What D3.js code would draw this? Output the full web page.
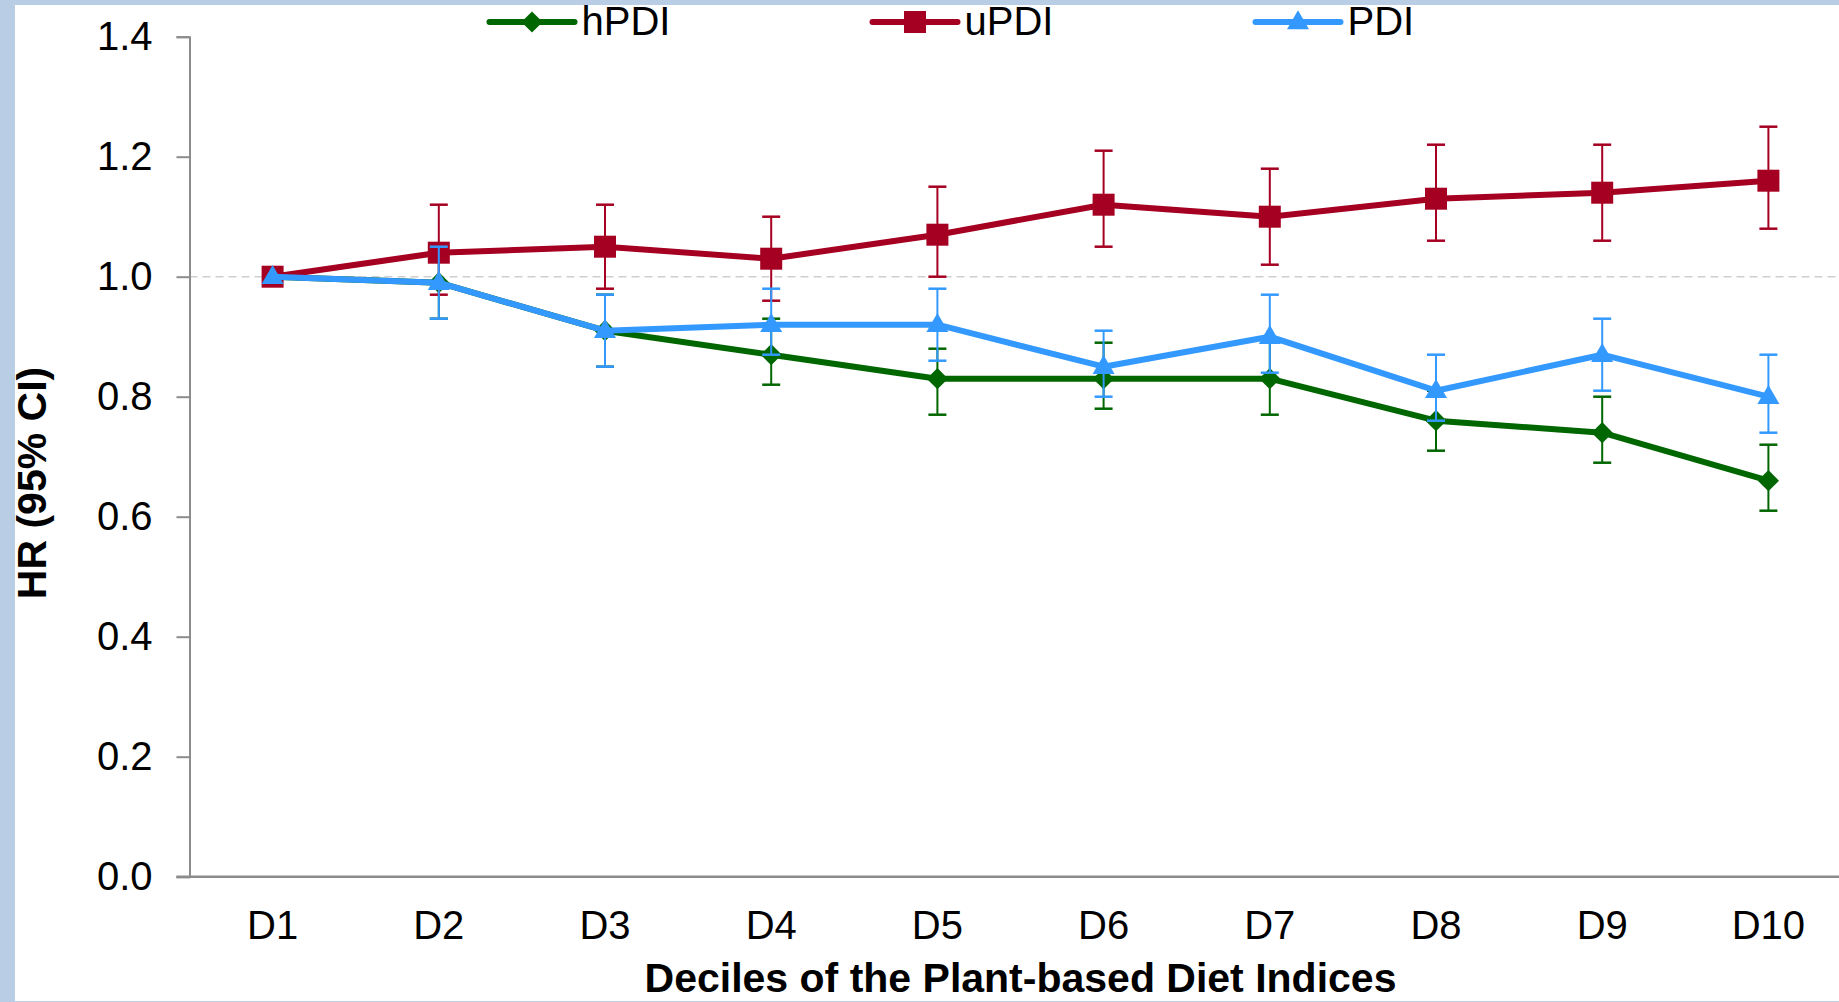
<!DOCTYPE html>
<html>
<head>
<meta charset="utf-8">
<script src="https://cdn.jsdelivr.net/npm/d3@7"></script>
<style>
  html, body { margin: 0; padding: 0; background: #b9cde5; }
  svg { display: block; }
  text { font-family: "Liberation Sans", Arial, sans-serif; fill: #000; }
</style>
</head>
<body>
<svg id="chart" width="1839" height="1002"></svg>
<script>
// Deciles on the x axis
const categories = ["D1", "D2", "D3", "D4", "D5", "D6", "D7", "D8", "D9", "D10"];

// Hazard ratios with 95% confidence limits per index
const hPDI      = [1.00, 0.99, 0.91, 0.87, 0.83, 0.83, 0.83, 0.76, 0.74, 0.66];
const hPDI_low  = [1.00, 0.93, 0.85, 0.82, 0.77, 0.78, 0.77, 0.71, 0.69, 0.61];
const hPDI_high = [1.00, 1.05, 0.97, 0.93, 0.88, 0.89, 0.89, 0.81, 0.80, 0.72];

const uPDI      = [1.00, 1.04, 1.05, 1.03, 1.07, 1.12, 1.10, 1.13, 1.14, 1.16];
const uPDI_low  = [1.00, 0.97, 0.98, 0.96, 1.00, 1.05, 1.02, 1.06, 1.06, 1.08];
const uPDI_high = [1.00, 1.12, 1.12, 1.10, 1.15, 1.21, 1.18, 1.22, 1.22, 1.25];

const PDI       = [1.00, 0.99, 0.91, 0.92, 0.92, 0.85, 0.90, 0.81, 0.87, 0.80];
const PDI_low   = [1.00, 0.93, 0.85, 0.87, 0.86, 0.80, 0.84, 0.76, 0.81, 0.74];
const PDI_high  = [1.00, 1.05, 0.97, 0.98, 0.98, 0.91, 0.97, 0.87, 0.93, 0.87];

const yTicks = [0.0, 0.2, 0.4, 0.6, 0.8, 1.0, 1.2, 1.4];
const referenceHR = 1.0;

const series = [
  { name: "hPDI", values: hPDI, low: hPDI_low, high: hPDI_high, color: "#006600", marker: "diamond" },
  { name: "uPDI", values: uPDI, low: uPDI_low, high: uPDI_high, color: "#a50021", marker: "square" },
  { name: "PDI",  values: PDI,  low: PDI_low,  high: PDI_high,  color: "#3399ff", marker: "triangle" }
];

const svg = d3.select("#chart");

// white chart area inside the light-blue frame
svg.append("rect").attr("x", 15).attr("y", 5).attr("width", 1839 - 15).attr("height", 1001 - 5).attr("fill", "#fff");

const x = d3.scaleBand().domain(categories).range([189.5, 1851.5]).padding(0);
const y = d3.scaleLinear().domain([0, 1.4]).range([876.7, 36.7]);
const cx = c => x(c) + x.bandwidth() / 2;

// reference line at HR = 1
svg.append("line")
  .attr("x1", x.range()[0]).attr("x2", 1839)
  .attr("y1", y(referenceHR)).attr("y2", y(referenceHR))
  .attr("stroke", "#cfcfcf").attr("stroke-width", 1.5).attr("stroke-dasharray", "8,5");

// y axis
const yAxis = svg.append("g")
  .attr("transform", `translate(${x.range()[0]},0)`)
  .call(d3.axisLeft(y).tickValues(yTicks).tickFormat(d3.format(".1f")).tickSize(13).tickPadding(24));
yAxis.select(".domain").attr("stroke", "#8c8c8c").attr("stroke-width", 2);
yAxis.selectAll(".tick line").attr("stroke", "#8c8c8c").attr("stroke-width", 2);
yAxis.selectAll(".tick text").attr("font-size", 40).attr("fill", "#000")
  .style("font-family", '"Liberation Sans", Arial, sans-serif');

// x axis
const xAxis = svg.append("g")
  .attr("transform", `translate(0,${y(0)})`)
  .call(d3.axisBottom(x).tickSize(0).tickPadding(34));
xAxis.select(".domain").remove();
svg.append("line")
  .attr("x1", x.range()[0] - 13).attr("x2", 1839)
  .attr("y1", y(0)).attr("y2", y(0))
  .attr("stroke", "#8c8c8c").attr("stroke-width", 2.5);
xAxis.selectAll(".tick text").attr("font-size", 40).attr("fill", "#000")
  .style("font-family", '"Liberation Sans", Arial, sans-serif');

// axis titles
svg.append("text")
  .attr("x", (x.range()[0] + x.range()[1]) / 2).attr("y", 992)
  .attr("text-anchor", "middle").attr("font-size", 41).attr("font-weight", "bold")
  .text("Deciles of the Plant-based Diet Indices");

svg.append("text")
  .attr("transform", "translate(46,483) rotate(-90)")
  .attr("text-anchor", "middle").attr("font-size", 41).attr("font-weight", "bold")
  .text("HR (95% CI)");

// marker shapes
function markerPath(kind) {
  if (kind === "square") return d3.symbol().type(d3.symbolSquare).size(22 * 22)();
  if (kind === "diamond") return d3.symbol().type(d3.symbolSquare).size(15 * 15)();
  return d3.symbol().type(d3.symbolTriangle).size(210)();
}
function markerTransform(kind, px, py) {
  if (kind === "diamond") return `translate(${px},${py}) rotate(45)`;
  if (kind === "triangle") return `translate(${px},${py + 1})`;
  return `translate(${px},${py})`;
}

const line = d3.line().x(d => cx(d.c)).y(d => y(d.v));

series.forEach(s => {
  const pts = categories.map((c, i) => ({ c, v: s.values[i], lo: s.low[i], hi: s.high[i] }));
  const g = svg.append("g");

  // confidence interval whiskers
  const eb = g.selectAll(".eb").data(pts.filter(p => p.lo !== p.hi)).enter().append("g");
  eb.append("line")
    .attr("x1", p => cx(p.c)).attr("x2", p => cx(p.c))
    .attr("y1", p => y(p.lo)).attr("y2", p => y(p.hi))
    .attr("stroke", s.color).attr("stroke-width", 2);
  [d => d.lo, d => d.hi].forEach(acc => {
    eb.append("line")
      .attr("x1", p => cx(p.c) - 9).attr("x2", p => cx(p.c) + 9)
      .attr("y1", p => y(acc(p))).attr("y2", p => y(acc(p)))
      .attr("stroke", s.color).attr("stroke-width", 2.5);
  });

  g.append("path").datum(pts).attr("d", line)
    .attr("fill", "none").attr("stroke", s.color).attr("stroke-width", 6)
    .attr("stroke-linejoin", "round");

  g.selectAll(".mk").data(pts).enter().append("path")
    .attr("d", markerPath(s.marker))
    .attr("transform", p => markerTransform(s.marker, cx(p.c), y(p.v)))
    .attr("fill", s.color);
});

// legend
const legend = svg.append("g");
series.forEach((s, i) => {
  const x0 = 489.5 + i * 383;
  const ly = 22;
  legend.append("line")
    .attr("x1", x0).attr("x2", x0 + 85).attr("y1", ly).attr("y2", ly)
    .attr("stroke", s.color).attr("stroke-width", 6).attr("stroke-linecap", "round");
  legend.append("path")
    .attr("d", markerPath(s.marker))
    .attr("transform", markerTransform(s.marker, x0 + 42.5, ly))
    .attr("fill", s.color);
  legend.append("text")
    .attr("x", x0 + 92).attr("y", 35)
    .attr("font-size", 40)
    .text(s.name);
});
</script>
</body>
</html>
